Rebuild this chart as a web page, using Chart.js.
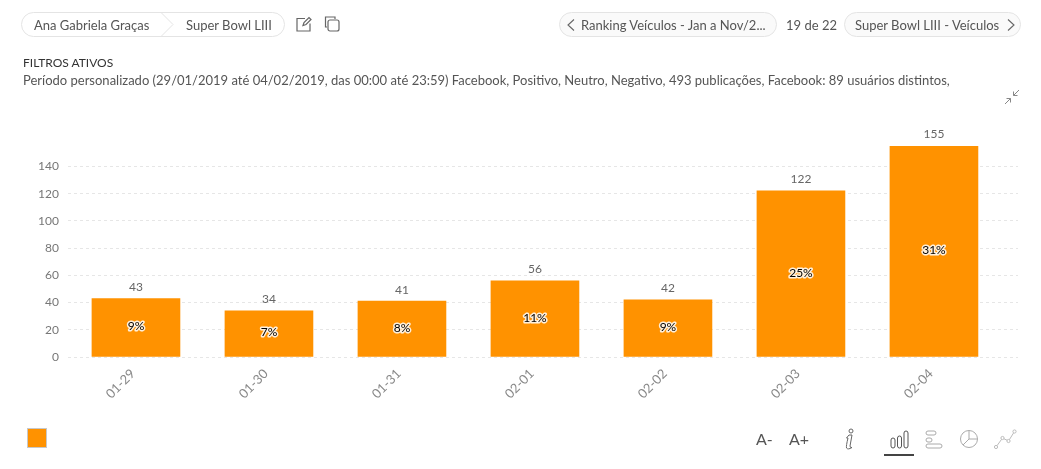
<!DOCTYPE html>
<html>
<head>
<meta charset="utf-8">
<title>Super Bowl LIII</title>
<script src="https://cdn.jsdelivr.net/npm/chart.js@4"></script>
<style>
  html, body { margin: 0; padding: 0; background: #fff; overflow: hidden; }
  body { width: 1041px; height: 469px; position: relative; font-family: Lato, sans-serif; color: #555; }
  #wrap { position: absolute; left: 0; top: 0; width: 1041px; height: 469px; }
  .t { position: absolute; white-space: nowrap; line-height: 18px; }
  .pill { position: absolute; height: 24px; box-sizing: border-box; border: 1px solid #e4e4e4; border-radius: 13px; }
  svg { position: absolute; overflow: visible; }
</style>
</head>
<body>
<div id="wrap"><canvas id="myChart" width="1041" height="469"></canvas></div>

<div class="pill" style="left:21px;top:12px;width:264px;height:25px"></div>
<svg style="left:160px;top:12px" width="14" height="25"><path d="M1 0.5 L13 12.5 L1 24.5" fill="none" stroke="#e4e4e4"/></svg>
<span class="t" style="left:34px;top:16px;font-size:13px">Ana Gabriela Graças</span>
<span class="t" style="left:186px;top:16px;font-size:13px">Super Bowl LIII</span>
<svg style="left:296px;top:16px" width="16" height="16" fill="none" stroke="#666" stroke-width="1.2"><path d="M9 2.5 H1 V15 H14 V7.5"/><path d="M7 9.5 L8 6.5 L13 1.5 L15 3.5 L10 8.5 Z"/></svg>
<svg style="left:324px;top:16px" width="16" height="16" fill="none" stroke="#666" stroke-width="1.2"><path d="M3 11 H1.5 V1 H11 V3"/><rect x="4" y="4" width="11" height="11" rx="2"/></svg>

<div class="pill" style="left:559px;top:12px;width:218px;height:25px;background:#fafafa"></div>
<svg style="left:567px;top:19px" width="8" height="12" fill="none" stroke="#666" stroke-width="1.1"><path d="M7 0.5 L1 6 L7 11.5"/></svg>
<span class="t" style="left:581px;top:16px;font-size:13px">Ranking Veículos - Jan a Nov/2...</span>
<span class="t" style="left:786px;top:16px;font-size:13px">19 de 22</span>
<div class="pill" style="left:844px;top:12px;width:177px;height:25px;background:#fafafa"></div>
<span class="t" style="left:855px;top:16px;font-size:13px">Super Bowl LIII - Veículos</span>
<svg style="left:1007px;top:19px" width="8" height="12" fill="none" stroke="#666" stroke-width="1.1"><path d="M1 0.5 L7 6 L1 11.5"/></svg>

<span class="t" style="left:23px;top:54px;font-size:12px;color:#333">FILTROS ATIVOS</span>
<span class="t" style="left:23px;top:71px;font-size:13px">Período personalizado (29/01/2019 até 04/02/2019, das 00:00 até 23:59) Facebook, Positivo, Neutro, Negativo, 493 publicações, Facebook: 89 usuários distintos,</span>

<svg style="left:1004px;top:89px" width="16" height="16" fill="none" stroke="#888"><path d="M15 1 L9.5 6.5 M9.5 2.5 V6.5 H13.5"/><path d="M1 15 L6.5 9.5 M2.5 9.5 H6.5 V13.5"/></svg>

<div style="position:absolute;left:27px;top:428px;width:20px;height:20px;box-sizing:border-box;background:#ff9200;border:1px solid #c8c8c8"></div>

<span class="t" style="left:756px;top:430px;font-size:16px">A-</span>
<span class="t" style="left:789px;top:430px;font-size:16px">A+</span>
<svg style="left:844px;top:428px" width="12" height="22" fill="none" stroke="#666"><circle cx="7" cy="3" r="2"/><path d="M5 7 H8 L6 18 Q6 20 8 19.5 Q4 22 2.5 20 Q2 18 4 10 H2.5 Z"/></svg>
<svg style="left:890px;top:430px" width="19" height="19" fill="none" stroke="#555"><rect x="1" y="8" width="4" height="10" rx="2"/><rect x="7.5" y="6" width="4" height="12" rx="2"/><rect x="14" y="1" width="4" height="17" rx="2"/></svg>
<div style="position:absolute;left:884px;top:454px;width:30px;height:2px;background:#444"></div>
<svg style="left:925px;top:430px" width="18" height="19" fill="none" stroke="#aaa"><rect x="1" y="1" width="10" height="4" rx="2"/><rect x="1" y="8" width="6" height="4" rx="2"/><rect x="1" y="14" width="16" height="4" rx="2"/></svg>
<svg style="left:960px;top:430px" width="18" height="18" fill="none" stroke="#aaa"><circle cx="9" cy="9" r="8.5"/><path d="M9 0.5 V9 H17.5 M9 9 L3 15"/></svg>
<svg style="left:993px;top:429px" width="24" height="20" fill="none" stroke="#bbb"><circle cx="3" cy="18" r="1.6"/><circle cx="9.5" cy="9" r="1.6"/><circle cx="15.5" cy="12" r="1.6"/><circle cx="21.5" cy="2.5" r="1.6"/><path d="M4 16.7 L8.6 10.3 M11 9.8 L14 11.2 M16.4 10.6 L20.6 3.9"/></svg>

<script>
'use strict';

let categories = ['01-29', '01-30', '01-31', '02-01', '02-02', '02-03', '02-04'];
let publications = [43, 34, 41, 56, 42, 122, 155];
let percentLabels = ['9%', '7%', '8%', '11%', '9%', '25%', '31%'];
let yTicks = [0, 20, 40, 60, 80, 100, 120, 140];

let barColor = '#ff9200';
let fontFamily = 'Lato, sans-serif';

// value on top of the bar, percent with a white halo in the middle
let barLabels = {
  id: 'barLabels',
  afterDatasetsDraw(chart) {
    let ctx = chart.ctx;
    let bars = chart.getDatasetMeta(0).data;
    ctx.save();
    ctx.textAlign = 'center';
    ctx.textBaseline = 'middle';
    for (let i = 0; i < bars.length; i++) {
      let bar = bars[i];
      ctx.font = '12px ' + fontFamily;
      ctx.fillStyle = '#666';
      ctx.fillText(publications[i], bar.x, bar.y - 11.5);

      let middle = (bar.y + bar.base) / 2 - 1;
      ctx.font = '12px ' + fontFamily;
      ctx.lineWidth = 3;
      ctx.lineJoin = 'round';
      ctx.strokeStyle = 'rgba(255,255,255,0.85)';
      ctx.strokeText(percentLabels[i], bar.x, middle);
      ctx.fillStyle = '#000';
      ctx.fillText(percentLabels[i], bar.x, middle);
    }
    ctx.restore();
  }
};

let ctx = document.getElementById('myChart').getContext('2d');

let chart = new Chart(ctx, {
  type: 'bar',
  data: {
    datasets: [
      {
        label: '',
        backgroundColor: barColor,
        borderWidth: 0,
        barThickness: 88,
        data: categories.map(function (c, i) {
          return { x: i, y: publications[i] };
        })
      }
    ]
  },
  plugins: [barLabels],
  options: {
    responsive: false,
    animation: false,
    layout: { padding: { top: 146, right: 23, left: 0, bottom: 0 } },
    plugins: { legend: { display: false }, tooltip: { enabled: false } },
    scales: {
      x: {
        type: 'linear',
        offset: false,
        min: -0.511,
        max: 6.632,
        grid: { display: false },
        border: { display: false },
        afterBuildTicks(scale) {
          scale.ticks = categories.map(function (c, i) {
            return { value: i };
          });
        },
        afterFit(scale) {
          scale.height = 112;
        },
        ticks: {
          autoSkip: false,
          minRotation: 45,
          maxRotation: 45,
          padding: 1,
          labelOffset: -3,
          color: '#888',
          font: { family: fontFamily, size: 13 },
          callback(value) {
            return categories[value];
          }
        }
      },
      y: {
        min: 0,
        max: 155,
        afterBuildTicks(scale) {
          scale.ticks = yTicks.map(function (v) {
            return { value: v };
          });
        },
        afterFit(scale) {
          scale.width = 68;
        },
        border: { display: false, dash: [3, 3] },
        grid: { color: '#e6e6e6', drawTicks: false },
        ticks: {
          padding: 9,
          color: '#777',
          font: { family: fontFamily, size: 12 }
        }
      }
    }
  }
});
</script>
</body>
</html>
